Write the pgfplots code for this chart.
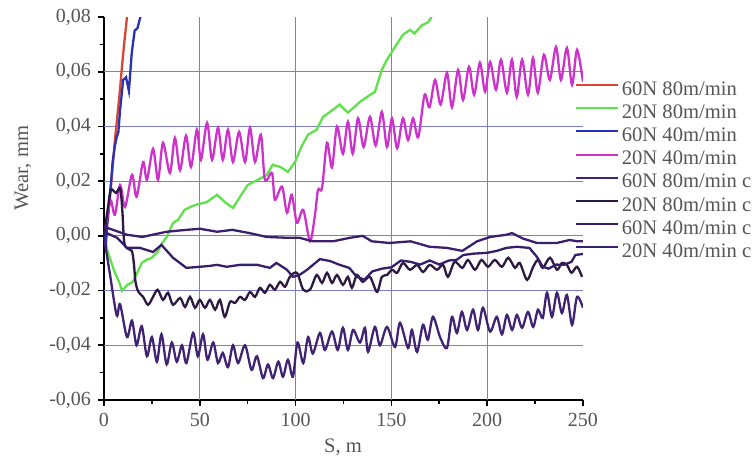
\documentclass[border=0pt]{standalone}
\usepackage{pgfplots}
\pgfplotsset{compat=1.18}
\usepackage{fontspec}
\setmainfont{Liberation Serif}
\definecolor{cred}{RGB}{215,70,50}
\definecolor{cgreen}{RGB}{95,225,75}
\definecolor{cblue}{RGB}{40,50,180}
\definecolor{cmag}{RGB}{205,50,205}
\definecolor{cA}{RGB}{65,35,115}
\definecolor{cB}{RGB}{45,25,65}
\definecolor{cC}{RGB}{55,30,105}
\definecolor{cD}{RGB}{60,30,110}
\definecolor{gridc}{RGB}{125,125,205}
\definecolor{tgray}{RGB}{85,85,85}
\begin{document}
\begin{tikzpicture}
\begin{axis}[
  scale only axis, width=239.5pt, height=191.5pt,
  xmin=0, xmax=250, ymin=-0.06, ymax=0.08,
  axis lines=left, axis line style={line width=1pt, -},
  xtick={0,50,100,150,200,250},
  ytick={-0.06,-0.04,-0.02,0,0.02,0.04,0.06,0.08},
  minor x tick num=1, minor y tick num=1,
  tick align=outside, major tick length=3pt, minor tick length=2pt,
  tick style={black, line width=0.8pt},
  scaled y ticks=false,
  yticklabel style={/pgf/number format/.cd, fixed, fixed zerofill, precision=2, use comma, assume math mode=true},
  xticklabel style={/pgf/number format/assume math mode=true},
  tick label style={font=\fontsize{10}{12}\selectfont, text=tgray},
  extra x ticks={50,100,150,200}, extra x tick labels={},
  extra x tick style={grid=major, major tick length=0pt},
  extra y ticks={-0.04,-0.02,0,0.02,0.04,0.06}, extra y tick labels={},
  extra y tick style={grid=major, major tick length=0pt},
  major grid style={color=gridc, line width=0.5pt},
  xlabel={S, m}, ylabel={Wear, mm},
  label style={font=\fontsize{10.3}{12}\selectfont, text=tgray},
  xlabel style={at={(rel axis cs:0.499,-0.1227)}, anchor=center},
  ylabel style={at={(rel axis cs:-0.169,0.606)}, anchor=center},
  legend style={draw=none, fill=none, inner sep=0pt, outer sep=0pt,
    at={(rel axis cs:0.983,0.8355)}, anchor=north west,
    font=\fontsize{10.3}{12}\selectfont, text=tgray, row sep=1.6pt, column sep=1.5pt,
    nodes={inner sep=0pt, text height=7.5pt, text depth=2.5pt}},
  legend cell align=left,
  legend image code/.code={\draw[#1, line width=1pt] (0pt,2.5pt) -- (21pt,2.5pt);},
  every axis plot/.append style={line width=1.15pt},
]
\addplot[cred] coordinates {(0,0) (1,0.002) (2,0.006) (3,0.013) (4,0.021) (5.7,0.035) (7.3,0.046) (8.4,0.054) (9.4,0.062) (10.5,0.07) (12,0.08)};
\addlegendentry{60N 80m/min}
\addplot[cgreen] coordinates {(0,0) (2,-0.006) (5.7,-0.0135) (8,-0.017) (9.4,-0.0201) (12,-0.018) (15,-0.0168) (17,-0.014) (19.7,-0.0099) (22,-0.0088) (25,-0.008) (28,-0.0058) (30,-0.003) (32.7,-0.0004) (36,0.0047) (38.6,0.0058) (42,0.0095) (47.5,0.0113) (53.8,0.0124) (59,0.015) (63,0.0124) (67.3,0.0102) (71,0.0143) (75,0.0186) (80.4,0.0205) (85,0.0223) (88,0.026) (92,0.0252) (96,0.0234) (99.7,0.027) (103,0.0325) (106.5,0.037) (111,0.0388) (114.3,0.0435) (118,0.0453) (123,0.048) (127.3,0.045) (133.6,0.049) (138.8,0.0515) (141.4,0.0526) (145,0.0607) (147.7,0.0644) (151.9,0.0691) (156,0.0735) (159.7,0.0753) (162,0.074) (166,0.077) (169,0.078) (171,0.08)};
\addlegendentry{20N 80m/min}
\addplot[cblue] coordinates {(0,0) (0.5,-0.0015) (1,-0.003) (2,0.007) (3.6,0.019) (4.5,0.027) (5.7,0.033) (6.6,0.036) (7.5,0.038) (8.4,0.046) (10,0.057) (11.5,0.058) (13,0.053) (14.5,0.067) (16,0.075) (17.5,0.076) (19,0.08)};
\addlegendentry{60N 40m/min}
\addplot[cmag, smooth] coordinates {(0,0) (1.5,0.006) (3.5,0.013) (5.7,0.0077) (8.4,0.0186) (11,0.0106) (14.6,0.0223) (17,0.0143) (20.4,0.027) (22.4,0.0205) (25.6,0.0318) (28.2,0.0205) (30.8,0.034) (34.4,0.023) (37,0.0358) (39.7,0.024) (42.8,0.0366) (45.4,0.0252) (48.5,0.0388) (50.6,0.0278) (53.8,0.0413) (56.4,0.0278) (59.5,0.0395) (62,0.0278) (64.7,0.0388) (67.3,0.027) (70.5,0.038) (73.6,0.027) (76.2,0.0395) (78.8,0.027) (81.9,0.037) (84,0.0205) (87.7,0.023) (89.2,0.0132) (92.9,0.018) (95.5,0.0084) (98,0.015) (100.7,0.0048) (104,0.0095) (107.5,-0.002) (110,0.007) (111.7,0.0168) (113.8,0.0175) (116.4,0.034) (119,0.025) (121.6,0.04) (124.7,0.030) (127.3,0.0417) (129.8,0.030) (132.6,0.043) (135.5,0.0325) (138.8,0.0435) (141.8,0.033) (145,0.0453) (147.7,0.0325) (150.3,0.043) (153,0.032) (156,0.043) (158.7,0.035) (161.3,0.043) (164,0.036) (167.3,0.0515) (169.9,0.047) (172.8,0.057) (175.7,0.048) (179,0.0596) (181.6,0.047) (184.8,0.0607) (187.4,0.0497) (190.5,0.0618) (193.2,0.0516) (196.2,0.0633) (198.9,0.0527) (201.5,0.0636) (204.6,0.0534) (207.2,0.0644) (210.3,0.0523) (212.9,0.0644) (215.4,0.0508) (218.2,0.0644) (221.3,0.0516) (223.9,0.065) (226.4,0.0523) (229.6,0.0662) (232.7,0.057) (235.9,0.0691) (238.5,0.057) (241.6,0.0687) (244.3,0.0552) (246.9,0.068) (250,0.0563)};
\addlegendentry{20N 40m/min}
\addplot[cA, smooth] coordinates {(0,0) (0.5,-0.0026) (3,-0.0135) (6.6,-0.029) (8.4,-0.025) (12,-0.037) (14.6,-0.031) (17,-0.04) (19.7,-0.033) (22.4,-0.044) (25,-0.037) (27.6,-0.046) (30,-0.036) (32.7,-0.047) (35.4,-0.039) (38,-0.046) (40.7,-0.04) (43,-0.0465) (46.5,-0.0355) (49,-0.044) (51.7,-0.036) (54,-0.0453) (57,-0.039) (59.5,-0.0465) (62,-0.0428) (64.7,-0.048) (67.3,-0.04) (70,-0.0465) (73.6,-0.04) (77,-0.049) (79.8,-0.044) (83,-0.052) (85.6,-0.047) (88.2,-0.052) (91,-0.046) (93.4,-0.0515) (96,-0.0453) (98.6,-0.0515) (101,-0.039) (104,-0.0465) (106.5,-0.037) (109,-0.043) (112.7,-0.0355) (115.3,-0.0417) (119,-0.035) (122,-0.0417) (124.7,-0.0336) (127.3,-0.0417) (130,-0.0344) (133.6,-0.039) (136.2,-0.0336) (137.8,-0.0424) (141.4,-0.0333) (144,-0.04) (147.7,-0.0333) (151.9,-0.0406) (154.5,-0.0318) (158.7,-0.041) (160.7,-0.0344) (163.4,-0.0424) (166.5,-0.0325) (169,-0.038) (171.7,-0.0296) (175.4,-0.037) (179,-0.041) (181.6,-0.0296) (184.2,-0.0355) (186.8,-0.0278) (189.5,-0.0344) (192.6,-0.027) (195.2,-0.0344) (197.8,-0.0263) (201.5,-0.035) (205,-0.0296) (207.7,-0.036) (210.3,-0.0289) (213,-0.0344) (215.5,-0.0289) (218.2,-0.0336) (221.3,-0.0278) (224,-0.0333) (226.5,-0.027) (229,-0.03) (231.2,-0.0208) (233.8,-0.0296) (236.4,-0.0208) (239,-0.0282) (241.6,-0.0216) (244.3,-0.0325) (246.9,-0.0223) (250,-0.0263)};
\addlegendentry{60N 80m/min c}
\addplot[cB, smooth] coordinates {(0,0) (2,0.01) (3.6,0.0168) (6.3,0.0157) (8.4,0.0175) (9.5,0.01) (10.5,-0.002) (12,-0.0045) (14.5,-0.0055) (15.5,-0.0095) (16.5,-0.017) (18,-0.0205) (20.4,-0.0223) (23,-0.0252) (25.6,-0.0223) (28,-0.0197) (30.8,-0.0234) (33.4,-0.0208) (36,-0.0252) (39.7,-0.0227) (42.3,-0.026) (44.9,-0.0223) (47.5,-0.0263) (50,-0.0234) (52.7,-0.0263) (55.3,-0.0234) (58,-0.027) (60.5,-0.0234) (63,-0.0296) (65.8,-0.0241) (68.4,-0.0245) (71,-0.0223) (73.6,-0.0234) (76.2,-0.0205) (78.8,-0.0223) (81.4,-0.019) (84,-0.0208) (86.6,-0.0179) (89.2,-0.0197) (91.9,-0.0168) (94.5,-0.0186) (97,-0.015) (100.7,-0.0135) (104,-0.0197) (107.5,-0.0197) (111,-0.0143) (113.8,-0.0172) (116.4,-0.0135) (119,-0.0172) (121.6,-0.0143) (124.7,-0.0179) (127.3,-0.015) (129.4,-0.019) (132,-0.0143) (135,-0.0168) (138.8,-0.015) (142.5,-0.0205) (145,-0.015) (147.7,-0.0143) (150.3,-0.0124) (153,-0.0135) (156,-0.0099) (159.7,-0.0124) (163.4,-0.0106) (166.5,-0.0132) (170,-0.0106) (173.8,-0.0124) (177,-0.0106) (179.5,-0.015) (183,-0.0095) (187,-0.0117) (190,-0.0088) (193.6,-0.0124) (197,-0.0088) (200.4,-0.0113) (204,-0.0088) (207.7,-0.0113) (211,-0.008) (214.5,-0.0117) (217,-0.0099) (220.8,-0.0161) (224,-0.0113) (226.5,-0.0088) (229,-0.0117) (232.8,-0.008) (236.4,-0.0124) (239,-0.0099) (241.6,-0.0106) (244,-0.0135) (246.9,-0.0113) (249.5,-0.015)};
\addlegendentry{20N 80m/min c}
\addplot[cC] coordinates {(0,0.0005) (1.5,0.001) (6.8,-0.0007) (12,-0.0044) (18.8,-0.0044) (25.6,-0.0059) (30,-0.0033) (36,-0.008) (43,-0.0117) (50,-0.0113) (55,-0.011) (59,-0.0106) (64,-0.0113) (71,-0.0106) (80,-0.0106) (86.6,-0.0117) (90,-0.0099) (95.5,-0.0124) (98.6,-0.015) (102,-0.0143) (106,-0.0124) (112.7,-0.0085) (118,-0.0092) (123,-0.0106) (128,-0.0117) (132,-0.015) (136,-0.016) (140,-0.013) (145,-0.012) (150,-0.0115) (155,-0.009) (160,-0.0095) (165,-0.0105) (170,-0.009) (175,-0.0105) (180,-0.009) (184,-0.0088) (187.5,-0.007) (193,-0.0065) (200,-0.0062) (205,-0.0055) (210,-0.0044) (215.5,-0.004) (222,-0.0044) (226,-0.0077) (229,-0.0113) (232,-0.012) (236,-0.0105) (240,-0.0106) (244,-0.0095) (246,-0.007) (250,-0.0066)};
\addlegendentry{60N 40m/min c}
\addplot[cD] coordinates {(0,0.0033) (4.7,0.0022) (12,0.0004) (20,-0.0004) (26,0.0005) (32.7,0.0015) (40,0.002) (50,0.0026) (55,0.002) (59,0.0015) (67,0.0022) (76,0.001) (85,-0.0004) (95.5,-0.0007) (102,-0.0007) (109,-0.002) (119.5,-0.002) (128.4,-0.0007) (135,0) (139.8,-0.002) (149,-0.0026) (160,-0.002) (170,-0.004) (179,-0.0044) (187,-0.0055) (194.7,-0.002) (201.5,-0.0004) (210,0.0004) (213,0.001) (218.7,-0.001) (226,-0.0026) (236.4,-0.0026) (243,-0.0015) (247,-0.002) (250,-0.002)};
\addlegendentry{20N 40m/min c}
\end{axis}
\pgfresetboundingbox
\path (-52pt,-32.5pt) rectangle (324pt,200pt);
\end{tikzpicture}
\end{document}
